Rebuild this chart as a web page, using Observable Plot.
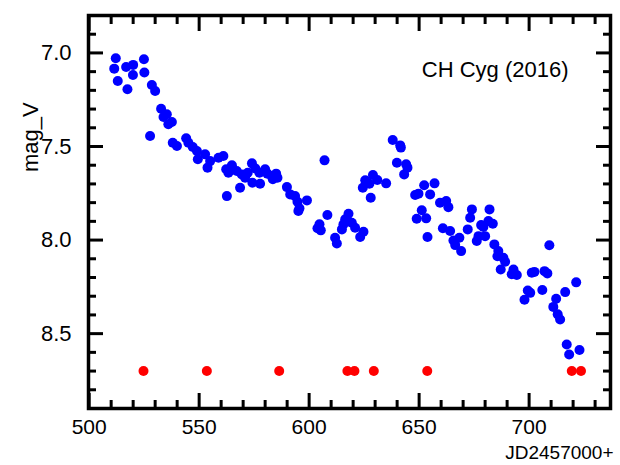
<!DOCTYPE html>
<html><head><meta charset="utf-8">
<script src="https://cdn.jsdelivr.net/npm/d3@7"></script>
<script src="https://cdn.jsdelivr.net/npm/@observablehq/plot@0.6"></script>
<style>body{margin:0;background:#fff;}</style>
</head><body><div id="chart"></div>
<script>
// V-band magnitudes (blue)
const jd = [511.4, 512.1, 513.0, 516.8, 517.4, 519.9, 520.0, 524.9, 525.1, 527.7, 528.5, 530.0, 532.7, 533.8, 535.3, 536.0, 537.6, 538.0, 539.9, 544.1, 545.1, 547.1, 549.0, 549.4, 552.7, 553.8, 555.0, 558.8, 561.0, 562.3, 562.6, 563.3, 564.9, 567.1, 568.6, 569.4, 570.9, 572.1, 574.0, 574.2, 575.5, 577.4, 577.7, 580.0, 581.0, 583.0, 583.5, 585.0, 585.6, 589.9, 591.4, 593.6, 594.7, 595.1, 595.6, 599.0, 603.8, 604.7, 605.3, 607.0, 608.3, 611.8, 612.6, 614.9, 615.6, 616.4, 617.9, 619.4, 620.9, 623.2, 624.4, 624.7, 625.5, 627.4, 628.0, 629.0, 631.0, 635.0, 638.0, 639.9, 641.4, 641.7, 643.2, 644.1, 644.7, 648.2, 648.9, 649.7, 651.2, 652.3, 653.2, 653.8, 655.0, 657.0, 659.5, 660.8, 662.3, 663.3, 664.1, 665.6, 666.4, 668.3, 669.1, 672.1, 673.2, 674.0, 676.2, 677.0, 678.2, 679.2, 680.0, 681.5, 682.0, 683.5, 684.2, 685.6, 686.0, 687.1, 688.3, 689.1, 692.1, 692.9, 694.4, 697.9, 699.4, 700.5, 701.2, 702.4, 706.0, 707.0, 708.3, 709.2, 711.0, 712.3, 713.0, 714.1, 716.4, 717.1, 718.2, 721.4, 722.9];
const magV = [7.084, 7.028, 7.150, 7.075, 7.194, 7.118, 7.064, 7.034, 7.105, 7.444, 7.171, 7.203, 7.298, 7.342, 7.328, 7.381, 7.369, 7.480, 7.497, 7.456, 7.480, 7.503, 7.524, 7.568, 7.542, 7.613, 7.578, 7.560, 7.551, 7.622, 7.765, 7.640, 7.600, 7.631, 7.720, 7.649, 7.667, 7.640, 7.590, 7.694, 7.617, 7.640, 7.699, 7.622, 7.645, 7.658, 7.675, 7.645, 7.667, 7.717, 7.756, 7.765, 7.795, 7.845, 7.830, 7.788, 7.937, 7.916, 7.948, 7.574, 7.866, 7.988, 8.018, 7.943, 7.916, 7.889, 7.859, 7.907, 7.934, 7.984, 7.720, 7.956, 7.681, 7.699, 7.774, 7.652, 7.679, 7.697, 7.465, 7.587, 7.494, 7.506, 7.649, 7.595, 7.613, 7.759, 7.886, 7.752, 7.841, 7.707, 7.884, 7.984, 7.756, 7.697, 7.801, 7.937, 7.791, 7.824, 7.952, 8.002, 8.027, 7.988, 8.059, 7.943, 7.881, 7.836, 8.005, 7.979, 7.920, 7.930, 7.979, 7.898, 7.836, 7.913, 8.023, 8.086, 8.059, 8.157, 8.095, 8.116, 8.183, 8.157, 8.187, 8.319, 8.269, 8.282, 8.175, 8.170, 8.267, 8.166, 8.178, 8.028, 8.357, 8.314, 8.397, 8.424, 8.278, 8.558, 8.611, 8.226, 8.587];
// red markers
const jdRed = [524.7, 553.5, 586.4, 617.4, 620.6, 629.4, 653.7, 719.4, 723.6];
const magRed = [8.7, 8.7, 8.7, 8.7, 8.7, 8.7, 8.7, 8.7, 8.7];
// ticks
const xMajor = [500, 550, 600, 650, 700];
const xMinor = [510, 520, 530, 540, 560, 570, 580, 590, 610, 620, 630, 640, 660, 670, 680, 690, 710, 720, 730];
const yMajor = [7.0, 7.5, 8.0, 8.5];
const yMinor = [6.9, 7.1, 7.2, 7.3, 7.4, 7.6, 7.7, 7.8, 7.9, 8.1, 8.2, 8.3, 8.4, 8.6, 8.7, 8.8];
const titleText = ["CH Cyg (2016)"];
const xLabel = ["JD2457000+"];
const yLabel = ["mag_V"];

const blue = jd.map((x, i) => ({x, y: magV[i]}));
const red = jdRed.map((x, i) => ({x, y: magRed[i]}));

const tk = {fill: "none", stroke: "black", strokeWidth: 3, label: null};

const chart = Plot.plot({
  width: 620,
  height: 465,
  marginLeft: 88,
  marginRight: 10,
  marginTop: 15,
  marginBottom: 57,
  style: {fontFamily: "'Liberation Sans', Arial, Helvetica, sans-serif", fontSize: "21px", background: "white", color: "black"},
  x: {domain: [499.7, 737], axis: null},
  y: {domain: [6.8, 8.9], reverse: true, axis: null},
  marks: [
    Plot.dot(blue, {x: "x", y: "y", r: 5, fill: "#0000ff", stroke: "none"}),
    Plot.dot(red, {x: "x", y: "y", r: 5, fill: "#ff0000", stroke: "none"}),
    Plot.axisX(xMajor, {anchor: "bottom", tickSize: -15, ...tk}),
    Plot.axisX(xMinor, {anchor: "bottom", tickSize: -8, ...tk}),
    Plot.axisX(xMajor, {anchor: "top", tickSize: -15, ...tk}),
    Plot.axisX(xMinor, {anchor: "top", tickSize: -8, ...tk}),
    Plot.axisY(yMajor, {anchor: "left", tickSize: -15, ...tk}),
    Plot.axisY(yMinor, {anchor: "left", tickSize: -8, ...tk}),
    Plot.axisY(yMajor, {anchor: "right", tickSize: -15, ...tk}),
    Plot.axisY(yMinor, {anchor: "right", tickSize: -8, ...tk}),
    Plot.axisX(xMajor, {anchor: "bottom", tickSize: 0, tickPadding: 11, fontSize: 21, label: null}),
    Plot.axisY(yMajor, {anchor: "left", tickSize: 0, tickPadding: 17, fontSize: 22, tickFormat: d3.format(".1f"), label: null}),
    Plot.frame({stroke: "black", strokeWidth: 3.5}),
    Plot.text(titleText, {text: d => d, frameAnchor: "top-right", textAnchor: "end", dx: -42, dy: 46, fontSize: 22}),
    Plot.text(xLabel, {text: d => d, frameAnchor: "bottom-right", textAnchor: "end", dx: 3, dy: 50, fontSize: 19}),
    Plot.text(yLabel, {text: d => d, frameAnchor: "left", rotate: -90, dx: -58, dy: -40, fontSize: 22})
  ]
});
document.getElementById("chart").appendChild(chart);
</script>
</body></html>
